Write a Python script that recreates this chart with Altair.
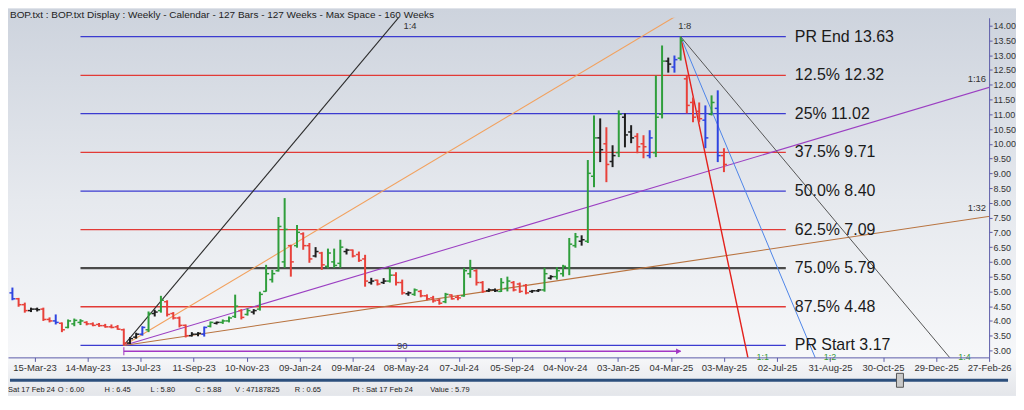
import altair as alt
import pandas as pd

# ---------------- data ----------------
LOW_DATE = "2023-06-24"      # swing-low bar (week 0)
HIGH_DATE = "2025-03-15"     # swing-high bar (week 90)
LOW_PRICE = 3.17
HIGH_PRICE = 13.63
FIRST_WEEK = -18             # first visible bar, in weeks from the low

highs = [5.13, 4.78, 4.62, 4.45, 4.45, 4.45, 4.12, 4.22, 3.95, 4.05, 4.08, 4.06, 3.99, 3.95, 3.93, 3.90, 3.88, 3.86, 3.74,
         3.45, 3.60, 3.82, 4.32, 4.38, 4.85, 4.70, 4.30, 4.15, 3.88, 3.62, 3.62, 3.81, 3.98, 3.98, 4.05, 4.15, 4.89, 4.40,
         4.42, 4.40, 4.99, 5.90, 5.73, 7.52, 8.16, 6.58, 7.25, 7.00, 6.64, 6.50, 6.34, 6.45, 6.45, 6.75, 6.45, 6.42, 6.35,
         6.24, 5.46, 5.40, 5.45, 5.80, 5.65, 5.40, 5.00, 5.10, 5.05, 4.90, 4.85, 4.75, 4.95, 4.90, 4.88, 5.80, 6.07, 5.75,
         5.35, 5.10, 5.10, 5.45, 5.50, 5.35, 5.30, 5.25, 5.05, 5.08, 5.80, 5.55, 5.82, 5.90, 6.81, 6.98, 6.90, 9.45, 10.96,
         10.86, 10.56, 9.95, 11.13, 11.03, 10.63, 10.36, 10.29, 10.46, 12.31, 13.33, 12.92, 12.99, 13.63, 12.31, 11.57,
         11.40, 11.30, 11.64, 11.81, 9.85]
lows = [4.70, 4.48, 4.28, 4.30, 4.32, 4.00, 3.95, 3.88, 3.62, 3.75, 3.82, 3.86, 3.85, 3.82, 3.80, 3.77, 3.75, 3.70, 3.17,
        3.22, 3.40, 3.50, 3.62, 4.15, 4.28, 4.15, 4.05, 3.78, 3.44, 3.47, 3.48, 3.47, 3.78, 3.88, 3.90, 3.95, 4.10, 4.05,
        4.18, 4.22, 4.35, 4.99, 5.30, 5.67, 5.80, 5.50, 6.48, 6.41, 5.97, 6.15, 5.73, 5.78, 5.80, 5.80, 6.25, 6.15, 6.00,
        5.16, 5.23, 5.20, 5.25, 5.30, 5.20, 4.89, 4.85, 4.85, 4.80, 4.70, 4.62, 4.55, 4.60, 4.72, 4.70, 4.82, 5.46, 5.20,
        4.95, 4.98, 4.98, 4.98, 5.00, 5.00, 4.95, 4.90, 4.95, 4.98, 4.99, 5.40, 5.40, 5.50, 5.55, 6.48, 6.55, 6.64, 8.53,
        9.38, 8.70, 9.21, 9.55, 9.88, 10.02, 9.68, 9.51, 9.51, 9.55, 10.86, 12.41, 12.41, 12.82, 11.03, 10.73, 10.73,
        9.85, 10.96, 9.38, 9.04]
opens = [4.95, 4.75, 4.55, 4.35, 4.40, 4.40, 4.05, 4.00, 3.92, 3.78, 3.90, 3.95, 3.95, 3.90, 3.88, 3.84, 3.80, 3.80, 3.70,
         3.25, 3.45, 3.55, 3.70, 4.25, 4.35, 4.65, 4.25, 4.10, 3.85, 3.50, 3.55, 3.55, 3.82, 3.92, 3.95, 4.00, 4.15, 4.35,
         4.22, 4.30, 4.40, 5.00, 5.40, 5.70, 6.00, 6.55, 6.55, 6.95, 6.55, 6.20, 6.30, 5.85, 6.00, 5.95, 6.35, 6.40, 6.25,
         6.10, 5.30, 5.38, 5.30, 5.35, 5.55, 5.30, 4.92, 4.90, 5.00, 4.85, 4.78, 4.70, 4.65, 4.88, 4.80, 4.85, 5.60, 5.70,
         5.30, 5.02, 5.05, 5.00, 5.10, 5.30, 5.25, 5.20, 5.00, 5.02, 5.05, 5.45, 5.50, 5.60, 5.80, 6.55, 6.70, 6.70, 8.90,
         10.20, 10.00, 9.40, 9.70, 10.90, 10.40, 10.25, 10.00, 9.60, 9.70, 11.00, 12.80, 12.60, 12.90, 12.20, 11.40,
         11.10, 10.80, 11.00, 11.20, 9.60]
closes = [4.75, 4.55, 4.35, 4.40, 4.38, 4.05, 4.00, 3.95, 3.70, 4.00, 4.02, 4.00, 3.90, 3.85, 3.84, 3.80, 3.78, 3.72, 3.25,
          3.40, 3.55, 3.78, 4.25, 4.30, 4.70, 4.22, 4.10, 3.85, 3.50, 3.55, 3.58, 3.78, 3.95, 3.95, 4.00, 4.10, 4.50, 4.12,
          4.35, 4.35, 4.90, 5.60, 5.60, 7.20, 7.10, 6.00, 7.00, 6.55, 6.10, 6.35, 5.90, 6.30, 5.88, 6.50, 6.40, 6.20, 6.05,
          5.35, 5.35, 5.25, 5.35, 5.55, 5.30, 4.95, 4.95, 5.05, 4.85, 4.75, 4.68, 4.60, 4.90, 4.75, 4.78, 5.70, 5.75, 5.30,
          5.00, 5.05, 5.02, 5.30, 5.35, 5.05, 5.00, 4.95, 5.02, 5.05, 5.60, 5.50, 5.70, 5.85, 6.60, 6.85, 6.75, 9.00, 10.20,
          9.80, 9.30, 9.60, 11.00, 10.30, 10.20, 9.90, 9.90, 10.20, 10.90, 12.80, 12.70, 12.85, 13.50, 11.30, 10.90,
          10.85, 10.20, 11.40, 9.60, 9.30]
kinds = ["outside", "down", "down", "inside", "inside", "down", "down", "outside", "down", "up", "up", "up", "down",
         "down", "down", "down", "down", "down", "down",
         "inside", "inside", "outside", "up", "inside", "up", "down", "down", "down", "down", "inside", "inside",
         "outside", "up", "inside", "up", "up", "up", "down", "up", "inside", "up", "up", "up", "up", "up", "down",
         "up", "down", "down", "inside", "down", "up", "up", "up", "inside", "down", "down", "down", "inside", "down",
         "inside", "up", "down", "down", "inside", "up", "down", "down", "down", "down", "up", "down", "down", "up",
         "up", "down", "down", "inside", "inside", "up", "up", "down", "down", "down", "inside", "inside", "up",
         "inside", "up", "up", "up", "up", "inside", "up", "up", "inside", "down", "inside", "up", "inside", "inside",
         "down", "down", "outside", "up", "up", "inside", "outside", "up", "down", "down", "down", "outside", "up",
         "outside", "down"]

level_names = ["PR End", "12.5%", "25%", "37.5%", "50.0%", "62.5%", "75.0%", "87.5%", "PR Start"]
level_values = [13.63, 12.32, 11.02, 9.71, 8.40, 7.09, 5.79, 4.48, 3.17]
LEVEL_START = "2023-05-06"
LEVEL_END = "2025-07-12"

fan_up_names = ["1:4", "1:8", "1:16", "1:32"]
fan_up_slopes = [0.25, 0.125, 0.0625, 0.03125]      # price per week
fan_down_names = ["1:1", "1:2", "1:4"]
fan_down_slopes = [1.0, 0.5, 0.25]

count_label = "90"
COUNT_PRICE = 2.97

x_tick_dates = ["2023-03-15", "2023-05-14", "2023-07-13", "2023-09-11", "2023-11-10", "2024-01-09",
                "2024-03-09", "2024-05-08", "2024-07-07", "2024-09-05", "2024-11-04", "2025-01-03",
                "2025-03-04", "2025-05-03", "2025-07-02", "2025-08-31", "2025-10-30", "2025-12-29",
                "2026-02-27"]
y_ticks = [3.00, 3.50, 4.00, 4.50, 5.00, 5.50, 6.00, 6.50, 7.00, 7.50, 8.00, 8.50, 9.00, 9.50,
           10.00, 10.50, 11.00, 11.50, 12.00, 12.50, 13.00, 13.50, 14.00]

X_START, X_END = "2023-02-13", "2026-02-27"
Y_MIN, Y_MAX = 2.765, 14.27

header_text = "BOP.txt : BOP.txt Display :  Weekly  - Calendar - 127 Bars - 127 Weeks -  Max Space - 160 Weeks"
status_texts = ["Sat 17 Feb 24", "O : 6.00", "H : 6.45", "L : 5.80", "C : 5.88", "V : 47187825",
                "R : 0.65", "Pt : Sat 17 Feb 24", "Value : 5.79"]

# ---------------- helpers ----------------
W, H = 985, 341
FONT = "Liberation Sans"
AX = "#5c5ca8"


def iso(ts):
    return pd.Timestamp(ts).strftime("%Y-%m-%dT%H:%M:%SZ")


def add_weeks(d, w):
    return pd.Timestamp(d) + pd.Timedelta(days=7 * w)


def dt(s):
    t = pd.Timestamp(s)
    return alt.DateTime(year=t.year, month=t.month, date=t.day, utc=True)


x_scale = alt.Scale(type="utc", domain=[dt(X_START), dt(X_END)], nice=False)
y_scale = alt.Scale(domain=[Y_MIN, Y_MAX], nice=False, zero=False)

x_axis = alt.Axis(values=[dt(d) for d in x_tick_dates], labelExpr="utcFormat(datum.value, '%d-%b-%y')",
                  title=None, grid=False, domainColor=AX, tickColor=AX, tickSize=4, labelFontSize=9.5,
                  labelColor="#333", labelFont=FONT, labelPadding=1, labelOverlap=False, labelFlush=False,
                  zindex=2)
y_axis = alt.Axis(orient="right", values=y_ticks, format=".2f", title=None, grid=False, domainColor=AX,
                  tickColor=AX, tickSize=3, labelFontSize=9, labelColor="#333", labelFont=FONT,
                  labelPadding=1, labelOverlap=False, labelFlush=False, zindex=2)


def X(field):
    return alt.X(field, type="temporal", scale=x_scale, axis=x_axis)


def Y(field):
    return alt.Y(field, type="quantitative", scale=y_scale, axis=y_axis)


# ---------------- tables ----------------
weeks = list(range(FIRST_WEEK, FIRST_WEEK + len(highs)))
bars = pd.DataFrame({
    "date": [iso(add_weeks(LOW_DATE, k)) for k in weeks],
    "high": highs, "low": lows, "open": opens, "close": closes, "kind": kinds,
})
kind_color = alt.Color("kind:N", legend=None,
                       scale=alt.Scale(domain=["up", "down", "inside", "outside"],
                                       range=["#2f9e3c", "#e8413a", "#1e1e1e", "#2f45e0"]))

level_colors = ["#3b3bd0", "#e23a36", "#3b3bd0", "#e23a36", "#3b3bd0", "#e23a36", "#4a4a4a", "#e23a36", "#3b3bd0"]
level_widths = [1.3, 1.3, 1.3, 1.3, 1.3, 1.3, 2.2, 1.3, 1.3]
levels = pd.DataFrame({
    "x": iso(LEVEL_START), "x2": iso(LEVEL_END), "y": level_values,
    "label": [f"{n} {v:.2f}" for n, v in zip(level_names, level_values)],
    "c": level_colors, "w": level_widths,
})

up_colors = ["#2b2b2b", "#f2a15e", "#9b3fc2", "#b8733f"]
down_colors = ["#e3211c", "#4d84e8", "#555555"]
fan_rows, top_lab, right_lab, bot_lab = [], [], [], []
span_weeks = (pd.Timestamp(X_END) - pd.Timestamp(LOW_DATE)).days / 7
for n, s, c in zip(fan_up_names, fan_up_slopes, up_colors):
    fan_rows.append(dict(x=iso(LOW_DATE), x2=iso(add_weeks(LOW_DATE, 300)), y=LOW_PRICE,
                         y2=LOW_PRICE + s * 300, c=c, w=1.1))
    wt = (Y_MAX - LOW_PRICE) / s
    if wt < span_weeks:
        top_lab.append(dict(x=iso(add_weeks(LOW_DATE, wt)), y=14.0, t=n))
    else:
        right_lab.append(dict(x=iso(X_END), y=LOW_PRICE + s * span_weeks, t=n))
for n, s, c in zip(fan_down_names, fan_down_slopes, down_colors):
    fan_rows.append(dict(x=iso(HIGH_DATE), x2=iso(add_weeks(HIGH_DATE, 300)), y=HIGH_PRICE,
                         y2=HIGH_PRICE - s * 300, c=c, w=1.4 if s == 1.0 else 1.0))
    bot_lab.append(dict(x=iso(add_weeks(HIGH_DATE, (HIGH_PRICE - Y_MIN) / s)), y=2.79, t=n))
fans = pd.DataFrame(fan_rows)

count_df = pd.DataFrame({"x": [iso(LOW_DATE)], "x2": [iso(HIGH_DATE)], "y": [COUNT_PRICE],
                         "mid": [iso(add_weeks(LOW_DATE, 45))], "t": [count_label]})

# ---------------- layers ----------------
one = pd.DataFrame({"a": [0]})
bg = alt.Chart(one).mark_rect(
    color=alt.LinearGradient(gradient="linear", x1=0, x2=0, y1=0, y2=1,
                             stops=[alt.GradientStop(offset=0, color="#cdd3dd"),
                                    alt.GradientStop(offset=0.5, color="#e6e9ee"),
                                    alt.GradientStop(offset=0.9, color="#f6f7f9"),
                                    alt.GradientStop(offset=1, color="#e4e6ea")])
).encode(x=alt.value(0), x2=alt.value(1012), y=alt.value(-9), y2=alt.value(379))

lvl = alt.Chart(levels).mark_rule().encode(
    x=X("x"), x2="x2", y=Y("y"), color=alt.Color("c:N", scale=None),
    strokeWidth=alt.StrokeWidth("w:Q", scale=None))
lvl_txt = alt.Chart(levels).mark_text(align="left", baseline="middle", dx=9, fontSize=16,
                                      font=FONT, color="#1a1a1a").encode(
    x=X("x2"), y=Y("y"), text="label:N")

fan = alt.Chart(fans).mark_rule(clip=True).encode(
    x=X("x"), x2="x2", y=Y("y"), y2="y2", color=alt.Color("c:N", scale=None),
    strokeWidth=alt.StrokeWidth("w:Q", scale=None))
fan_top = alt.Chart(pd.DataFrame(top_lab)).mark_text(align="left", baseline="middle", dx=5, fontSize=9.5,
                                                      font=FONT, color="#333").encode(
    x=X("x"), y=Y("y"), text="t:N")
fan_right = alt.Chart(pd.DataFrame(right_lab)).mark_text(align="right", baseline="middle", dx=-3, dy=-8,
                                                          fontSize=9.5, font=FONT, color="#333").encode(
    x=X("x"), y=Y("y"), text="t:N")
fan_bot = alt.Chart(pd.DataFrame(bot_lab)).mark_text(align="center", baseline="middle", dx=15, fontSize=9,
                                                      font=FONT, color="#3a9a3a").encode(
    x=X("x"), y=Y("y"), text="t:N")

PURPLE = "#a236c4"
cnt_line = alt.Chart(count_df).mark_rule(color=PURPLE, strokeWidth=1.5).encode(x=X("x"), x2="x2", y=Y("y"))
cnt_tick = alt.Chart(count_df).mark_tick(orient="vertical", color=PURPLE, size=8, thickness=1.5).encode(
    x=X("x"), y=Y("y"))
cnt_head = alt.Chart(count_df).mark_point(shape="triangle-right", filled=True, size=35, color=PURPLE,
                                          opacity=1, xOffset=-2).encode(x=X("x2"), y=Y("y"))
cnt_txt = alt.Chart(count_df).mark_text(baseline="middle", dy=-5, fontSize=9.5, font=FONT,
                                        color="#444").encode(x=X("mid"), y=Y("y"), text="t:N")

hl = alt.Chart(bars).mark_rule(strokeWidth=2).encode(
    x=X("date"), y=Y("high"), y2="low", color=kind_color)
op = alt.Chart(bars).mark_rule(strokeWidth=1.5, xOffset=-3, x2Offset=0).encode(
    x=X("date"), x2="date", y=Y("open"), color=kind_color)
cl = alt.Chart(bars).mark_rule(strokeWidth=1.5, xOffset=0, x2Offset=3).encode(
    x=X("date"), x2="date", y=Y("close"), color=kind_color)

header = alt.Chart(one).mark_text(align="left", baseline="middle", fontSize=10, font=FONT,
                                  color="#222").encode(x=alt.value(2), y=alt.value(-3), text=alt.value(header_text))

status_x = [0, 50, 97, 143, 188, 228, 288, 346, 424]
status_layers = [
    alt.Chart(one).mark_text(align="left", baseline="middle", fontSize=7.5, font=FONT, color="#222").encode(
        x=alt.value(sx), y=alt.value(374), text=alt.value(t))
    for sx, t in zip(status_x, status_texts)
]
slider = alt.Chart(one).mark_rule(color="#2c4f7c", strokeWidth=3).encode(
    x=alt.value(2), x2=alt.value(1004), y=alt.value(364))
thumb = alt.Chart(one).mark_rect(color="#c9c9c9", stroke="#555", strokeWidth=1).encode(
    x=alt.value(892), x2=alt.value(899), y=alt.value(357), y2=alt.value(371))

chart = alt.layer(
    bg, lvl, fan, cnt_line, cnt_tick, cnt_head, hl, op, cl, lvl_txt, cnt_txt, fan_top, fan_right, fan_bot,
    header, slider, thumb, *status_layers
).properties(
    width=W, height=H,
    padding={"left": 0, "top": 9, "right": 27, "bottom": 38},
    autosize=alt.AutoSizeParams(type="none"),
).configure(background="#e6e9ee").configure_view(stroke=None)

chart.save("out.html", embed_options={"renderer": "svg", "actions": False})
